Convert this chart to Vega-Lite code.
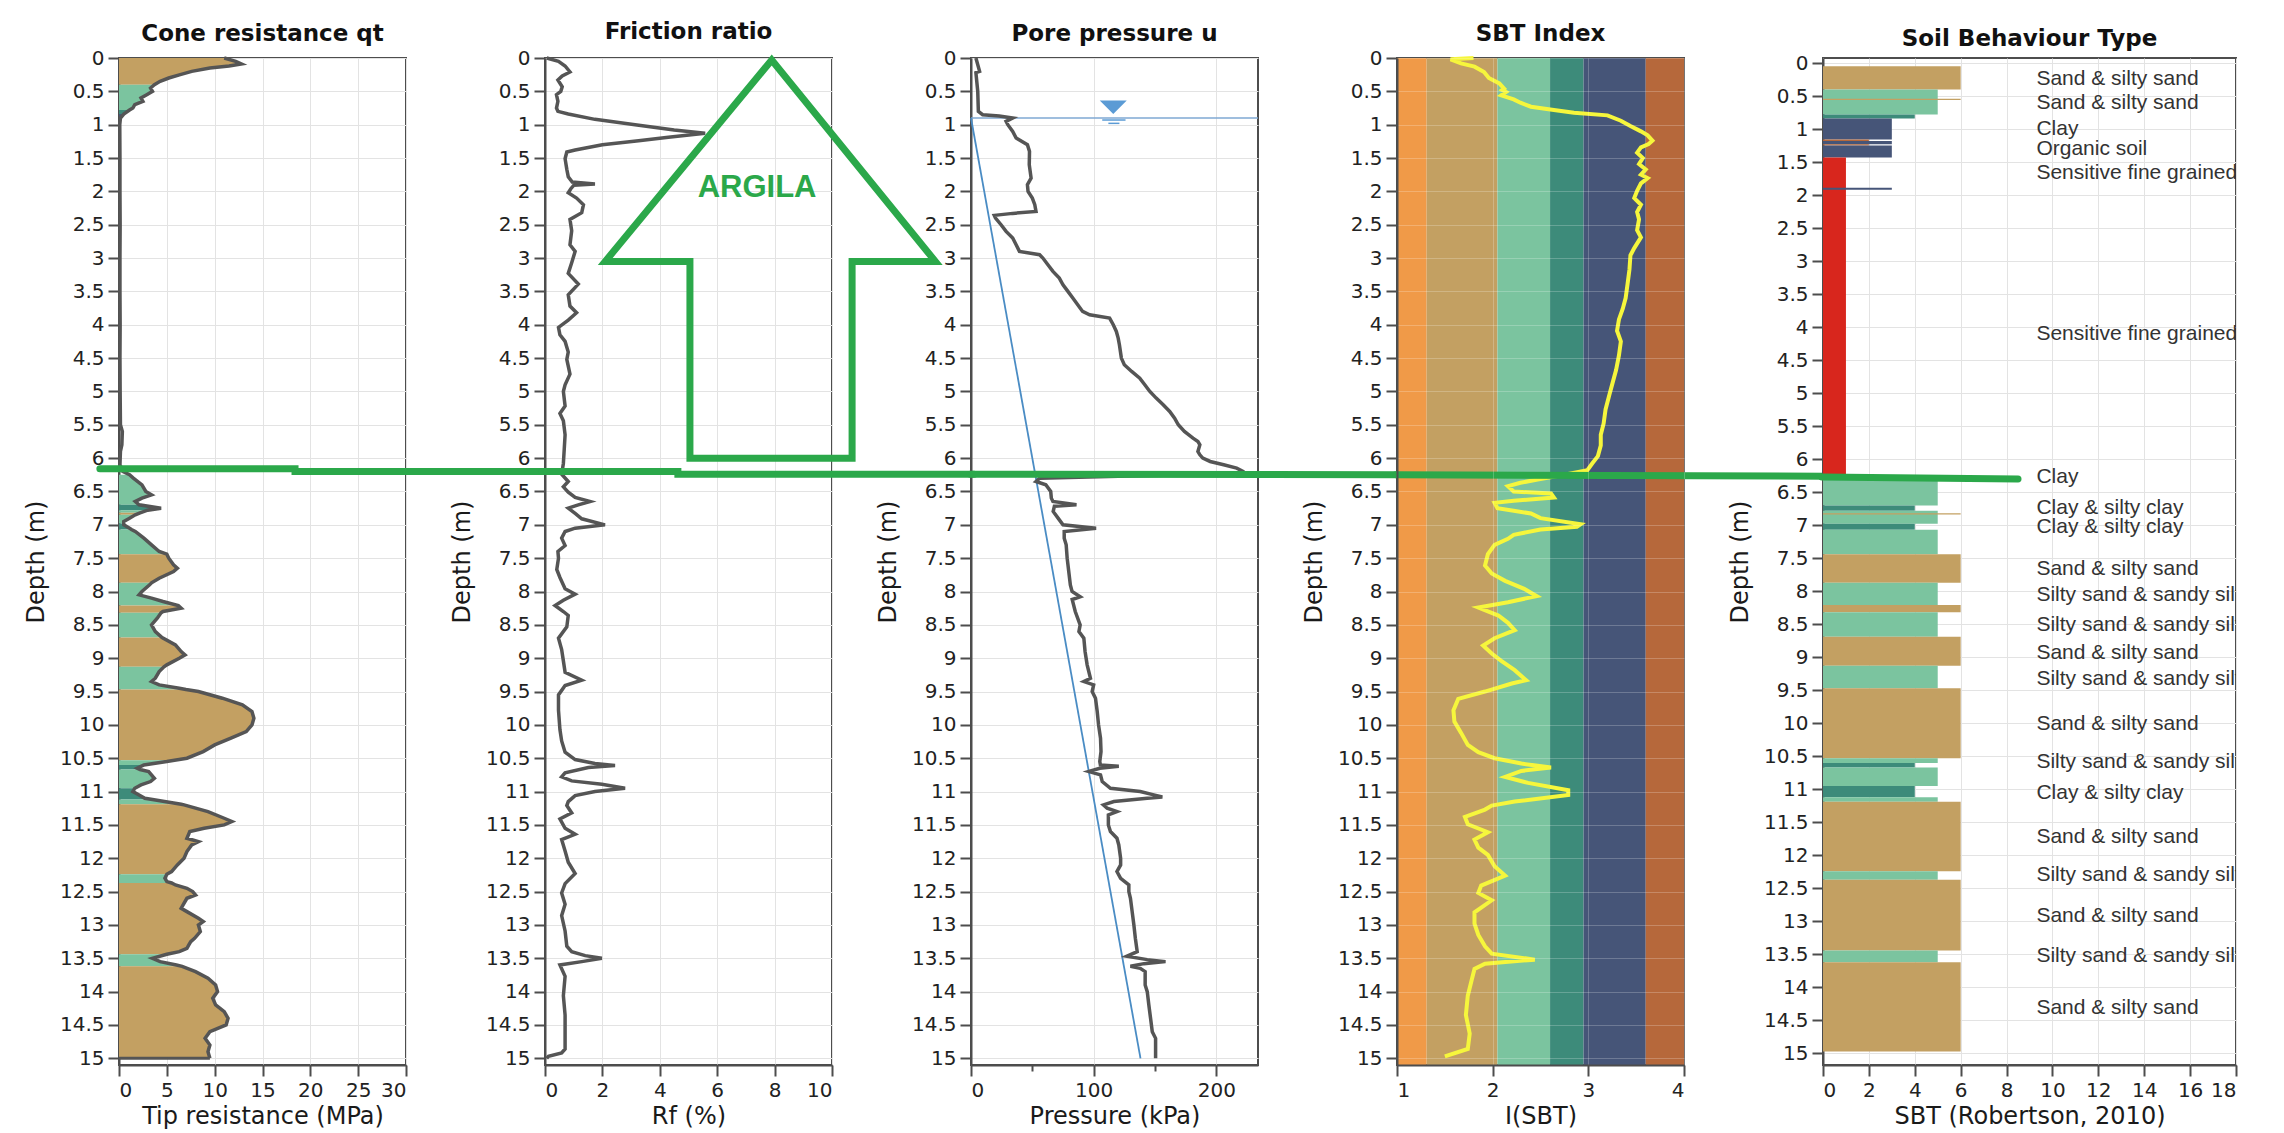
{
  "$schema": "https://vega.github.io/schema/vega-lite/v6.json",
  "background": "white",
  "padding": {"left": 23, "top": 20, "right": 5, "bottom": 0},
  "bounds": "flush",
  "spacing": 139,
  "config": {
    "view": {"stroke": "#4d4d4d", "strokeWidth": 2},
    "axis": {
      "labelFont": "DejaVu Sans", "labelFontSize": 20, "labelColor": "#222222", "labelOverlap": false,
      "titleFont": "DejaVu Sans", "titleFontSize": 24, "titleFontWeight": "normal", "titleColor": "#1a1a1a",
      "domainColor": "#4d4d4d", "domainWidth": 2, "tickColor": "#4d4d4d", "tickWidth": 2, "tickSize": 11,
      "gridColor": "#e3e3e3", "gridWidth": 1
    },
    "axisY": {"labelPadding": 4, "titlePadding": 11, "minExtent": 60, "maxExtent": 60},
    "axisX": {"labelPadding": 4, "titlePadding": 4},
    "title": {"font": "DejaVu Sans", "fontSize": 23, "fontWeight": "bold", "color": "#111111", "offset": 2, "frame": "group"}
  },
  "datasets": {
    "qt": [
      {"d":0,"q":11,"s":1,"z":"sand"},{"d":0.05,"q":12.2,"s":1,"z":"sand"},{"d":0.09,"q":12.8,"s":1,"z":"sand"},{"d":0.12,"q":11.5,"s":1,"z":"sand"},{"d":0.15,"q":9.5,"s":1,"z":"sand"},{"d":0.2,"q":7.6,"s":1,"z":"sand"},{"d":0.25,"q":6.4,"s":1,"z":"sand"},{"d":0.3,"q":5.2,"s":1,"z":"sand"},{"d":0.35,"q":4.3,"s":1,"z":"sand"},{"d":0.4,"q":3.7,"s":1,"z":"sand"},
      {"d":0.4,"q":3.7,"s":2,"z":"silt"},{"d":0.45,"q":3.3,"s":2,"z":"silt"},{"d":0.5,"q":3.5,"s":2,"z":"silt"},{"d":0.55,"q":2.9,"s":2,"z":"silt"},{"d":0.6,"q":2.3,"s":2,"z":"silt"},{"d":0.65,"q":2.5,"s":2,"z":"silt"},{"d":0.7,"q":1.65,"s":2,"z":"silt"},{"d":0.75,"q":1.45,"s":2,"z":"silt"},{"d":0.78,"q":1.1,"s":2,"z":"silt"},
      {"d":0.78,"q":1.1,"s":3,"z":"siltyclay"},{"d":0.84,"q":0.5,"s":3,"z":"siltyclay"},
      {"d":0.84,"q":0.5,"s":4,"z":"clay"},{"d":0.9,"q":0.15,"s":4,"z":"clay"},{"d":1.0,"q":0.08,"s":4,"z":"clay"},
      {"d":1.5,"q":0.1},{"d":2,"q":0.1},{"d":2.5,"q":0.12},{"d":3,"q":0.1},{"d":3.5,"q":0.1},{"d":4,"q":0.12},{"d":4.5,"q":0.1},{"d":5,"q":0.12},{"d":5.5,"q":0.15},{"d":5.6,"q":0.35},{"d":5.8,"q":0.3},{"d":5.9,"q":0.15},{"d":6.1,"q":0.1},{"d":6.2,"q":0.4},
      {"d":6.25,"q":1.1,"s":5,"z":"silt"},{"d":6.3,"q":1.5,"s":5,"z":"silt"},{"d":6.4,"q":2.4,"s":5,"z":"silt"},{"d":6.5,"q":2.8,"s":5,"z":"silt"},{"d":6.55,"q":3.4,"s":5,"z":"silt"},{"d":6.6,"q":2.4,"s":5,"z":"silt"},{"d":6.65,"q":1.7,"s":5,"z":"silt"},{"d":6.7,"q":2.1,"s":5,"z":"silt"},
      {"d":6.7,"q":2.1,"s":6,"z":"siltyclay"},{"d":6.75,"q":4.4,"s":6,"z":"siltyclay"},{"d":6.78,"q":3.0,"s":6,"z":"siltyclay"},
      {"d":6.78,"q":3.0,"s":7,"z":"silt"},{"d":6.82,"q":2.2,"s":7,"z":"silt"},
      {"d":6.82,"q":2.2,"s":8,"z":"sand"},{"d":6.85,"q":1.7,"s":8,"z":"sand"},
      {"d":6.85,"q":1.7,"s":9,"z":"silt"},{"d":6.9,"q":1.1,"s":9,"z":"silt"},{"d":6.95,"q":0.5,"s":9,"z":"silt"},{"d":6.98,"q":0.5,"s":9,"z":"silt"},
      {"d":6.98,"q":0.5,"s":10,"z":"siltyclay"},{"d":7.0,"q":0.5,"s":10,"z":"siltyclay"},{"d":7.05,"q":1.1,"s":10,"z":"siltyclay"},{"d":7.07,"q":1.3,"s":10,"z":"siltyclay"},
      {"d":7.07,"q":1.3,"s":11,"z":"silt"},{"d":7.1,"q":1.7,"s":11,"z":"silt"},{"d":7.2,"q":2.6,"s":11,"z":"silt"},{"d":7.3,"q":3.4,"s":11,"z":"silt"},{"d":7.4,"q":4.2,"s":11,"z":"silt"},{"d":7.44,"q":5.0,"s":11,"z":"silt"},
      {"d":7.44,"q":5.0,"s":12,"z":"sand"},{"d":7.5,"q":5.2,"s":12,"z":"sand"},{"d":7.6,"q":5.7,"s":12,"z":"sand"},{"d":7.65,"q":6.1,"s":12,"z":"sand"},{"d":7.7,"q":5.7,"s":12,"z":"sand"},{"d":7.8,"q":4.2,"s":12,"z":"sand"},{"d":7.87,"q":3.4,"s":12,"z":"sand"},
      {"d":7.87,"q":3.4,"s":13,"z":"silt"},{"d":7.9,"q":3.2,"s":13,"z":"silt"},{"d":8.0,"q":2.4,"s":13,"z":"silt"},{"d":8.05,"q":2.1,"s":13,"z":"silt"},{"d":8.1,"q":3.4,"s":13,"z":"silt"},{"d":8.15,"q":4.6,"s":13,"z":"silt"},{"d":8.21,"q":6.2,"s":13,"z":"silt"},
      {"d":8.21,"q":6.2,"s":14,"z":"sand"},{"d":8.25,"q":6.5,"s":14,"z":"sand"},{"d":8.3,"q":4.6,"s":14,"z":"sand"},{"d":8.32,"q":4.4,"s":14,"z":"sand"},
      {"d":8.32,"q":4.4,"s":15,"z":"silt"},{"d":8.4,"q":4.0,"s":15,"z":"silt"},{"d":8.5,"q":3.4,"s":15,"z":"silt"},{"d":8.6,"q":3.8,"s":15,"z":"silt"},{"d":8.69,"q":4.5,"s":15,"z":"silt"},
      {"d":8.69,"q":4.5,"s":16,"z":"sand"},{"d":8.8,"q":5.9,"s":16,"z":"sand"},{"d":8.9,"q":6.5,"s":16,"z":"sand"},{"d":8.95,"q":6.9,"s":16,"z":"sand"},{"d":9.0,"q":6.3,"s":16,"z":"sand"},{"d":9.1,"q":5.0,"s":16,"z":"sand"},{"d":9.13,"q":4.7,"s":16,"z":"sand"},
      {"d":9.13,"q":4.7,"s":17,"z":"silt"},{"d":9.2,"q":4.2,"s":17,"z":"silt"},{"d":9.3,"q":3.8,"s":17,"z":"silt"},{"d":9.35,"q":3.4,"s":17,"z":"silt"},{"d":9.4,"q":4.2,"s":17,"z":"silt"},{"d":9.45,"q":6.3,"s":17,"z":"silt"},{"d":9.47,"q":7.0,"s":17,"z":"silt"},
      {"d":9.47,"q":7.0,"s":18,"z":"sand"},{"d":9.5,"q":8.3,"s":18,"z":"sand"},{"d":9.6,"q":10.8,"s":18,"z":"sand"},{"d":9.7,"q":12.9,"s":18,"z":"sand"},{"d":9.8,"q":13.9,"s":18,"z":"sand"},{"d":9.9,"q":14.1,"s":18,"z":"sand"},{"d":10.0,"q":13.9,"s":18,"z":"sand"},{"d":10.1,"q":13.3,"s":18,"z":"sand"},{"d":10.2,"q":11.7,"s":18,"z":"sand"},{"d":10.3,"q":10.0,"s":18,"z":"sand"},{"d":10.4,"q":8.8,"s":18,"z":"sand"},{"d":10.5,"q":7.1,"s":18,"z":"sand"},{"d":10.53,"q":5.8,"s":18,"z":"sand"},
      {"d":10.53,"q":5.8,"s":19,"z":"silt"},{"d":10.55,"q":5.0,"s":19,"z":"silt"},{"d":10.6,"q":2.6,"s":19,"z":"silt"},
      {"d":10.6,"q":2.6,"s":20,"z":"siltyclay"},{"d":10.65,"q":1.9,"s":20,"z":"siltyclay"},{"d":10.67,"q":2.2,"s":20,"z":"siltyclay"},
      {"d":10.67,"q":2.2,"s":21,"z":"silt"},{"d":10.7,"q":3.1,"s":21,"z":"silt"},{"d":10.8,"q":3.7,"s":21,"z":"silt"},{"d":10.85,"q":3.3,"s":21,"z":"silt"},{"d":10.9,"q":2.3,"s":21,"z":"silt"},{"d":10.95,"q":1.65,"s":21,"z":"silt"},
      {"d":10.95,"q":1.65,"s":22,"z":"siltyclay"},{"d":11.0,"q":1.45,"s":22,"z":"siltyclay"},{"d":11.05,"q":2.1,"s":22,"z":"siltyclay"},{"d":11.1,"q":2.7,"s":22,"z":"siltyclay"},{"d":11.12,"q":3.5,"s":22,"z":"siltyclay"},
      {"d":11.12,"q":3.5,"s":23,"z":"silt"},{"d":11.15,"q":4.75,"s":23,"z":"silt"},{"d":11.19,"q":6.5,"s":23,"z":"silt"},
      {"d":11.19,"q":6.5,"s":24,"z":"sand"},{"d":11.2,"q":6.8,"s":24,"z":"sand"},{"d":11.3,"q":9.3,"s":24,"z":"sand"},{"d":11.4,"q":11.0,"s":24,"z":"sand"},{"d":11.45,"q":11.8,"s":24,"z":"sand"},{"d":11.5,"q":11.0,"s":24,"z":"sand"},{"d":11.55,"q":8.9,"s":24,"z":"sand"},{"d":11.6,"q":7.4,"s":24,"z":"sand"},{"d":11.7,"q":7.1,"s":24,"z":"sand"},{"d":11.75,"q":8.3,"s":24,"z":"sand"},{"d":11.8,"q":7.6,"s":24,"z":"sand"},{"d":11.9,"q":7.1,"s":24,"z":"sand"},{"d":12.0,"q":6.8,"s":24,"z":"sand"},{"d":12.1,"q":6.1,"s":24,"z":"sand"},{"d":12.2,"q":5.5,"s":24,"z":"sand"},{"d":12.24,"q":5.0,"s":24,"z":"sand"},
      {"d":12.24,"q":5.0,"s":25,"z":"silt"},{"d":12.3,"q":4.8,"s":25,"z":"silt"},{"d":12.35,"q":5.0,"s":25,"z":"silt"},{"d":12.37,"q":5.5,"s":25,"z":"silt"},
      {"d":12.37,"q":5.5,"s":26,"z":"sand"},{"d":12.4,"q":5.9,"s":26,"z":"sand"},{"d":12.45,"q":7.1,"s":26,"z":"sand"},{"d":12.5,"q":7.7,"s":26,"z":"sand"},{"d":12.55,"q":8.0,"s":26,"z":"sand"},{"d":12.6,"q":7.1,"s":26,"z":"sand"},{"d":12.7,"q":6.7,"s":26,"z":"sand"},{"d":12.75,"q":6.5,"s":26,"z":"sand"},{"d":12.8,"q":7.1,"s":26,"z":"sand"},{"d":12.9,"q":8.3,"s":26,"z":"sand"},{"d":12.95,"q":8.8,"s":26,"z":"sand"},{"d":13.0,"q":8.3,"s":26,"z":"sand"},{"d":13.1,"q":8.5,"s":26,"z":"sand"},{"d":13.2,"q":7.9,"s":26,"z":"sand"},{"d":13.25,"q":7.5,"s":26,"z":"sand"},{"d":13.3,"q":7.3,"s":26,"z":"sand"},{"d":13.35,"q":7.1,"s":26,"z":"sand"},{"d":13.4,"q":6.3,"s":26,"z":"sand"},{"d":13.44,"q":5.0,"s":26,"z":"sand"},
      {"d":13.44,"q":5.0,"s":27,"z":"silt"},{"d":13.5,"q":3.5,"s":27,"z":"silt"},{"d":13.55,"q":4.3,"s":27,"z":"silt"},{"d":13.6,"q":6.0,"s":27,"z":"silt"},{"d":13.62,"q":6.6,"s":27,"z":"silt"},
      {"d":13.62,"q":6.6,"s":28,"z":"sand"},{"d":13.7,"q":8.0,"s":28,"z":"sand"},{"d":13.8,"q":9.3,"s":28,"z":"sand"},{"d":13.9,"q":10.1,"s":28,"z":"sand"},{"d":14.0,"q":10.3,"s":28,"z":"sand"},{"d":14.1,"q":9.8,"s":28,"z":"sand"},{"d":14.2,"q":10.1,"s":28,"z":"sand"},{"d":14.3,"q":11.0,"s":28,"z":"sand"},{"d":14.4,"q":11.4,"s":28,"z":"sand"},{"d":14.5,"q":11.2,"s":28,"z":"sand"},{"d":14.6,"q":9.5,"s":28,"z":"sand"},{"d":14.7,"q":9.0,"s":28,"z":"sand"},{"d":14.8,"q":9.5,"s":28,"z":"sand"},{"d":14.9,"q":9.3,"s":28,"z":"sand"},{"d":15.0,"q":9.5,"s":28,"z":"sand"}
    ],
    "rf": [
      {"d":0,"r":0.06},{"d":0.05,"r":0.47},{"d":0.12,"r":0.7},{"d":0.21,"r":0.87},{"d":0.27,"r":0.6},{"d":0.33,"r":0.45},{"d":0.43,"r":0.6},{"d":0.5,"r":0.55},{"d":0.55,"r":0.4},{"d":0.65,"r":0.45},{"d":0.75,"r":0.4},{"d":0.8,"r":0.45},{"d":0.84,"r":0.81},{"d":0.92,"r":1.74},{"d":1.0,"r":3.14},{"d":1.08,"r":4.5},{"d":1.13,"r":5.58},{"d":1.19,"r":4.3},{"d":1.24,"r":3.26},{"d":1.3,"r":2.0},{"d":1.38,"r":1.05},{"d":1.41,"r":0.76},{"d":1.51,"r":0.7},{"d":1.67,"r":0.76},{"d":1.78,"r":0.81},{"d":1.86,"r":0.95},{"d":1.89,"r":1.74},{"d":1.91,"r":1.0},{"d":1.96,"r":0.9},{"d":2.02,"r":0.81},{"d":2.1,"r":1.1},{"d":2.2,"r":1.34},{"d":2.32,"r":1.28},{"d":2.42,"r":0.87},{"d":2.59,"r":0.93},{"d":2.8,"r":0.87},{"d":2.9,"r":1.05},{"d":3.07,"r":0.93},{"d":3.23,"r":0.81},{"d":3.39,"r":1.16},{"d":3.55,"r":0.81},{"d":3.72,"r":0.87},{"d":3.82,"r":1.1},{"d":3.93,"r":0.81},{"d":4.04,"r":0.47},{"d":4.15,"r":0.52},{"d":4.25,"r":0.7},{"d":4.41,"r":0.81},{"d":4.52,"r":0.76},{"d":4.74,"r":0.87},{"d":4.9,"r":0.7},{"d":5.0,"r":0.64},{"d":5.22,"r":0.7},{"d":5.33,"r":0.52},{"d":5.44,"r":0.64},{"d":5.65,"r":0.7},{"d":5.87,"r":0.67},{"d":6.08,"r":0.64},{"d":6.24,"r":0.58},{"d":6.35,"r":0.81},{"d":6.43,"r":0.64},{"d":6.51,"r":0.81},{"d":6.59,"r":1.05},{"d":6.65,"r":1.57},{"d":6.7,"r":1.16},{"d":6.75,"r":0.81},{"d":6.83,"r":1.05},{"d":6.91,"r":1.28},{"d":7.0,"r":2.09},{"d":7.05,"r":1.05},{"d":7.1,"r":0.7},{"d":7.2,"r":0.58},{"d":7.31,"r":0.7},{"d":7.4,"r":0.45},{"d":7.5,"r":0.47},{"d":7.67,"r":0.41},{"d":7.79,"r":0.52},{"d":7.96,"r":0.7},{"d":8.04,"r":1.05},{"d":8.13,"r":0.64},{"d":8.21,"r":0.35},{"d":8.3,"r":0.64},{"d":8.36,"r":0.81},{"d":8.53,"r":0.76},{"d":8.7,"r":0.47},{"d":8.87,"r":0.58},{"d":9.04,"r":0.64},{"d":9.21,"r":0.7},{"d":9.33,"r":1.28},{"d":9.41,"r":0.7},{"d":9.55,"r":0.47},{"d":9.78,"r":0.47},{"d":10.07,"r":0.52},{"d":10.24,"r":0.58},{"d":10.41,"r":0.7},{"d":10.52,"r":1.05},{"d":10.58,"r":1.74},{"d":10.61,"r":2.44},{"d":10.64,"r":1.51},{"d":10.72,"r":0.7},{"d":10.78,"r":0.58},{"d":10.84,"r":0.93},{"d":10.89,"r":1.98},{"d":10.95,"r":2.79},{"d":11.0,"r":1.74},{"d":11.06,"r":1.05},{"d":11.15,"r":0.81},{"d":11.21,"r":0.76},{"d":11.32,"r":0.93},{"d":11.41,"r":0.52},{"d":11.55,"r":0.7},{"d":11.64,"r":1.05},{"d":11.72,"r":0.58},{"d":11.89,"r":0.7},{"d":12.06,"r":0.81},{"d":12.23,"r":1.05},{"d":12.38,"r":0.7},{"d":12.52,"r":0.58},{"d":12.69,"r":0.7},{"d":12.86,"r":0.58},{"d":13.09,"r":0.7},{"d":13.32,"r":0.76},{"d":13.4,"r":0.93},{"d":13.46,"r":1.4},{"d":13.5,"r":1.98},{"d":13.55,"r":1.28},{"d":13.6,"r":0.52},{"d":13.77,"r":0.7},{"d":14.06,"r":0.64},{"d":14.35,"r":0.7},{"d":14.63,"r":0.7},{"d":14.86,"r":0.7},{"d":14.92,"r":0.58},{"d":14.97,"r":0.12},{"d":15.0,"r":0.06}
    ],
    "pore": [
      {"d":0,"u":4},{"d":0.2,"u":7},{"d":0.22,"u":4},{"d":0.5,"u":5.5},{"d":0.8,"u":6},{"d":0.85,"u":9.5},{"d":0.87,"u":23},{"d":0.9,"u":34},{"d":0.95,"u":28.6},{"d":1.0,"u":30},{"d":1.1,"u":34},{"d":1.2,"u":36.8},{"d":1.3,"u":46},{"d":1.4,"u":47.7},{"d":1.6,"u":47.5},{"d":1.8,"u":49},{"d":1.9,"u":46},{"d":2.0,"u":46.5},{"d":2.1,"u":50},{"d":2.2,"u":52},{"d":2.3,"u":53},{"d":2.33,"u":34},{"d":2.36,"u":19},{"d":2.4,"u":20},{"d":2.5,"u":24.5},{"d":2.6,"u":28.6},{"d":2.7,"u":34},{"d":2.8,"u":36.8},{"d":2.9,"u":39.5},{"d":2.95,"u":55.9},{"d":3.0,"u":58.6},{"d":3.1,"u":62.7},{"d":3.2,"u":66.8},{"d":3.3,"u":72},{"d":3.4,"u":75},{"d":3.5,"u":79},{"d":3.6,"u":83},{"d":3.7,"u":87},{"d":3.8,"u":91},{"d":3.85,"u":96.7},{"d":3.9,"u":113},{"d":4.0,"u":116},{"d":4.1,"u":118.5},{"d":4.2,"u":120},{"d":4.3,"u":121},{"d":4.5,"u":122.6},{"d":4.6,"u":125},{"d":4.7,"u":131},{"d":4.8,"u":137.6},{"d":4.9,"u":141.7},{"d":5.0,"u":145.8},{"d":5.1,"u":151},{"d":5.2,"u":156.7},{"d":5.3,"u":162},{"d":5.4,"u":166},{"d":5.5,"u":169},{"d":5.6,"u":174},{"d":5.7,"u":181},{"d":5.75,"u":185},{"d":5.8,"u":186.6},{"d":5.9,"u":185},{"d":5.95,"u":186.6},{"d":6.0,"u":189},{"d":6.05,"u":195},{"d":6.1,"u":206},{"d":6.15,"u":216.6},{"d":6.2,"u":222},{"d":6.23,"u":223},{"d":6.27,"u":120},{"d":6.3,"u":56},{"d":6.35,"u":53},{"d":6.4,"u":61},{"d":6.5,"u":65},{"d":6.6,"u":65.5},{"d":6.65,"u":66.8},{"d":6.7,"u":86},{"d":6.72,"u":68},{"d":6.8,"u":67},{"d":6.9,"u":71},{"d":7.0,"u":75},{"d":7.05,"u":102},{"d":7.1,"u":76},{"d":7.2,"u":76},{"d":7.3,"u":77.6},{"d":7.5,"u":78.4},{"d":7.7,"u":79.7},{"d":7.9,"u":81},{"d":8.0,"u":82.4},{"d":8.08,"u":89},{"d":8.12,"u":82.5},{"d":8.3,"u":85},{"d":8.5,"u":89},{"d":8.6,"u":88},{"d":8.7,"u":92},{"d":8.9,"u":93},{"d":9.1,"u":94.7},{"d":9.3,"u":97.4},{"d":9.35,"u":92},{"d":9.4,"u":100},{"d":9.5,"u":98.8},{"d":9.6,"u":101.5},{"d":9.8,"u":102.9},{"d":10.0,"u":104},{"d":10.2,"u":105.6},{"d":10.4,"u":106},{"d":10.55,"u":105},{"d":10.6,"u":105.5},{"d":10.62,"u":120.5},{"d":10.65,"u":105},{"d":10.7,"u":96},{"d":10.75,"u":105.6},{"d":10.85,"u":107},{"d":10.95,"u":113.7},{"d":11.0,"u":138},{"d":11.05,"u":149},{"d":11.08,"u":156},{"d":11.1,"u":143.7},{"d":11.15,"u":116.5},{"d":11.2,"u":108},{"d":11.25,"u":111},{"d":11.3,"u":119},{"d":11.35,"u":112},{"d":11.5,"u":112},{"d":11.6,"u":113.7},{"d":11.7,"u":119},{"d":11.8,"u":120.5},{"d":12.0,"u":122},{"d":12.1,"u":122},{"d":12.2,"u":119},{"d":12.3,"u":122},{"d":12.4,"u":128.7},{"d":12.5,"u":128.7},{"d":12.6,"u":130},{"d":12.8,"u":131.4},{"d":13.0,"u":132.8},{"d":13.2,"u":134},{"d":13.4,"u":135.5},{"d":13.47,"u":127},{"d":13.52,"u":143.7},{"d":13.55,"u":158.6},{"d":13.58,"u":141},{"d":13.62,"u":130},{"d":13.65,"u":138},{"d":13.7,"u":142},{"d":13.9,"u":142},{"d":14.0,"u":143.7},{"d":14.2,"u":145},{"d":14.4,"u":146.4},{"d":14.6,"u":147.8},{"d":14.7,"u":150.5},{"d":15.0,"u":150.5}
    ],
    "ic": [
      {"d":0,"c":1.8},{"d":0.02,"c":1.56},{"d":0.08,"c":1.67},{"d":0.13,"c":1.81},{"d":0.21,"c":1.91},{"d":0.3,"c":1.96},{"d":0.38,"c":2.07},{"d":0.46,"c":2.12},{"d":0.48,"c":2.1},{"d":0.51,"c":2.14},{"d":0.56,"c":2.09},{"d":0.62,"c":2.22},{"d":0.67,"c":2.29},{"d":0.73,"c":2.4},{"d":0.78,"c":2.64},{"d":0.82,"c":2.85},{"d":0.86,"c":3.2},{"d":0.94,"c":3.34},{"d":1.02,"c":3.44},{"d":1.1,"c":3.55},{"d":1.16,"c":3.62},{"d":1.24,"c":3.67},{"d":1.29,"c":3.63},{"d":1.34,"c":3.55},{"d":1.42,"c":3.51},{"d":1.5,"c":3.57},{"d":1.59,"c":3.53},{"d":1.67,"c":3.6},{"d":1.75,"c":3.55},{"d":1.8,"c":3.62},{"d":1.88,"c":3.55},{"d":1.99,"c":3.51},{"d":2.1,"c":3.48},{"d":2.2,"c":3.55},{"d":2.31,"c":3.51},{"d":2.42,"c":3.53},{"d":2.58,"c":3.51},{"d":2.69,"c":3.55},{"d":2.85,"c":3.48},{"d":2.96,"c":3.44},{"d":3.17,"c":3.43},{"d":3.39,"c":3.41},{"d":3.6,"c":3.39},{"d":3.76,"c":3.36},{"d":3.92,"c":3.32},{"d":4.09,"c":3.3},{"d":4.25,"c":3.34},{"d":4.46,"c":3.32},{"d":4.68,"c":3.29},{"d":4.89,"c":3.25},{"d":5.05,"c":3.22},{"d":5.27,"c":3.18},{"d":5.48,"c":3.16},{"d":5.65,"c":3.13},{"d":5.81,"c":3.13},{"d":5.97,"c":3.1},{"d":6.08,"c":3.04},{"d":6.18,"c":2.99},{"d":6.25,"c":2.75},{"d":6.32,"c":2.47},{"d":6.37,"c":2.29},{"d":6.42,"c":2.16},{"d":6.5,"c":2.22},{"d":6.53,"c":2.61},{"d":6.59,"c":2.64},{"d":6.64,"c":2.22},{"d":6.67,"c":2.02},{"d":6.75,"c":2.05},{"d":6.83,"c":2.4},{"d":6.9,"c":2.5},{"d":6.99,"c":2.92},{"d":7.03,"c":2.88},{"d":7.07,"c":2.5},{"d":7.15,"c":2.22},{"d":7.21,"c":2.16},{"d":7.3,"c":2.02},{"d":7.44,"c":1.95},{"d":7.61,"c":1.92},{"d":7.73,"c":1.99},{"d":7.84,"c":2.13},{"d":7.96,"c":2.33},{"d":8.07,"c":2.46},{"d":8.16,"c":2.16},{"d":8.24,"c":1.85},{"d":8.36,"c":2.06},{"d":8.47,"c":2.16},{"d":8.58,"c":2.23},{"d":8.7,"c":2.02},{"d":8.81,"c":1.9},{"d":8.93,"c":1.99},{"d":9.04,"c":2.09},{"d":9.18,"c":2.23},{"d":9.33,"c":2.35},{"d":9.38,"c":2.2},{"d":9.5,"c":1.92},{"d":9.61,"c":1.64},{"d":9.78,"c":1.59},{"d":9.95,"c":1.6},{"d":10.12,"c":1.67},{"d":10.3,"c":1.74},{"d":10.41,"c":1.85},{"d":10.5,"c":2.02},{"d":10.58,"c":2.3},{"d":10.64,"c":2.61},{"d":10.69,"c":2.3},{"d":10.78,"c":2.13},{"d":10.87,"c":2.37},{"d":10.98,"c":2.79},{"d":11.05,"c":2.79},{"d":11.15,"c":2.23},{"d":11.21,"c":1.99},{"d":11.27,"c":1.92},{"d":11.38,"c":1.71},{"d":11.49,"c":1.74},{"d":11.61,"c":1.95},{"d":11.72,"c":1.81},{"d":11.84,"c":1.85},{"d":11.95,"c":1.95},{"d":12.12,"c":2.02},{"d":12.26,"c":2.13},{"d":12.41,"c":1.88},{"d":12.52,"c":1.85},{"d":12.63,"c":1.99},{"d":12.81,"c":1.81},{"d":12.98,"c":1.81},{"d":13.15,"c":1.85},{"d":13.32,"c":1.92},{"d":13.43,"c":1.99},{"d":13.52,"c":2.44},{"d":13.58,"c":1.92},{"d":13.66,"c":1.81},{"d":13.83,"c":1.78},{"d":14.06,"c":1.74},{"d":14.35,"c":1.72},{"d":14.63,"c":1.76},{"d":14.86,"c":1.74},{"d":14.97,"c":1.5}
    ],
    "bands": [
      {"lo":1,"hi":1.31,"d":0,"d1":15.1,"z":"gravel"},{"lo":1.31,"hi":2.05,"d":0,"d1":15.1,"z":"sand"},{"lo":2.05,"hi":2.6,"d":0,"d1":15.1,"z":"silt"},{"lo":2.6,"hi":2.95,"d":0,"d1":15.1,"z":"siltyclay"},{"lo":2.95,"hi":3.6,"d":0,"d1":15.1,"z":"clay"},{"lo":3.6,"hi":4,"d":0,"d1":15.1,"z":"organic"}
    ],
    "sbt": [
      {"d":0.05,"d1":0.4,"v":6,"z":"sand"},{"d":0.4,"d1":0.78,"v":5,"z":"silt"},{"d":0.54,"d1":0.56,"v":6,"z":"sand"},{"d":0.78,"d1":0.84,"v":4,"z":"siltyclay"},
      {"d":0.84,"d1":1.16,"v":3,"z":"clay"},{"d":1.16,"d1":1.18,"v":2,"z":"organic"},{"d":1.18,"d1":1.23,"v":3,"z":"clay"},{"d":1.23,"d1":1.25,"v":2,"z":"organic"},{"d":1.25,"d1":1.43,"v":3,"z":"clay"},
      {"d":1.43,"d1":6.25,"v":1,"z":"sensitive"},{"d":1.89,"d1":1.92,"v":3,"z":"clay"},
      {"d":6.25,"d1":6.7,"v":5,"z":"silt"},{"d":6.7,"d1":6.78,"v":4,"z":"siltyclay"},{"d":6.78,"d1":6.98,"v":5,"z":"silt"},{"d":6.82,"d1":6.84,"v":6,"z":"sand"},{"d":6.98,"d1":7.07,"v":4,"z":"siltyclay"},{"d":7.07,"d1":7.44,"v":5,"z":"silt"},
      {"d":7.44,"d1":7.87,"v":6,"z":"sand"},{"d":7.87,"d1":8.21,"v":5,"z":"silt"},{"d":8.21,"d1":8.32,"v":6,"z":"sand"},{"d":8.32,"d1":8.69,"v":5,"z":"silt"},{"d":8.69,"d1":9.13,"v":6,"z":"sand"},{"d":9.13,"d1":9.47,"v":5,"z":"silt"},{"d":9.47,"d1":10.53,"v":6,"z":"sand"},
      {"d":10.53,"d1":10.6,"v":5,"z":"silt"},{"d":10.6,"d1":10.67,"v":4,"z":"siltyclay"},{"d":10.67,"d1":10.95,"v":5,"z":"silt"},{"d":10.95,"d1":11.12,"v":4,"z":"siltyclay"},{"d":11.12,"d1":11.19,"v":5,"z":"silt"},
      {"d":11.19,"d1":12.24,"v":6,"z":"sand"},{"d":12.24,"d1":12.37,"v":5,"z":"silt"},{"d":12.37,"d1":13.44,"v":6,"z":"sand"},{"d":13.44,"d1":13.62,"v":5,"z":"silt"},{"d":13.62,"d1":14.97,"v":6,"z":"sand"}
    ],
    "lbl": [
      {"d":0.24,"t":"Sand & silty sand"},{"d":0.6,"t":"Sand & silty sand"},{"d":1.0,"t":"Clay"},{"d":1.3,"t":"Organic soil"},{"d":1.67,"t":"Sensitive fine grained"},{"d":4.1,"t":"Sensitive fine grained"},{"d":6.27,"t":"Clay"},{"d":6.74,"t":"Clay & silty clay"},{"d":7.03,"t":"Clay & silty clay"},{"d":7.66,"t":"Sand & silty sand"},{"d":8.06,"t":"Silty sand & sandy silt"},{"d":8.51,"t":"Silty sand & sandy silt"},{"d":8.93,"t":"Sand & silty sand"},{"d":9.33,"t":"Silty sand & sandy silt"},{"d":10.01,"t":"Sand & silty sand"},{"d":10.59,"t":"Silty sand & sandy silt"},{"d":11.05,"t":"Clay & silty clay"},{"d":11.73,"t":"Sand & silty sand"},{"d":12.3,"t":"Silty sand & sandy silt"},{"d":12.92,"t":"Sand & silty sand"},{"d":13.52,"t":"Silty sand & sandy silt"},{"d":14.32,"t":"Sand & silty sand"}
    ],
    "mk": [
      {"p":1,"i":1,"x":-2.0,"d":6.16},{"p":1,"i":2,"x":18.4,"d":6.16},{"p":1,"i":3,"x":18.4,"d":6.2},{"p":1,"i":4,"x":44.8,"d":6.2},
      {"p":2,"i":1,"x":-0.1,"d":6.2},{"p":2,"i":2,"x":4.63,"d":6.2},{"p":2,"i":3,"x":4.63,"d":6.24},{"p":2,"i":4,"x":14.95,"d":6.24},
      {"p":3,"i":1,"x":-0.5,"d":6.24},{"p":3,"i":2,"x":349.5,"d":6.25},
      {"p":4,"i":1,"x":0.99,"d":6.25},{"p":4,"i":2,"x":5.48,"d":6.27},
      {"p":5,"i":1,"x":-0.05,"d":6.27},{"p":5,"i":2,"x":8.5,"d":6.3}
    ],
    "arrow": [
      {"i":1,"x":5.05,"d":6.0},{"i":2,"x":5.05,"d":3.05},{"i":3,"x":2.1,"d":3.05},{"i":4,"x":7.9,"d":0.03},{"i":5,"x":13.6,"d":3.05},{"i":6,"x":10.7,"d":3.05},{"i":7,"x":10.7,"d":6.0},{"i":8,"x":5.05,"d":6.0}
    ]
  },
  "hconcat": [
    {
      "width": 287, "height": 1007,
      "title": "Cone resistance qt",
      "encoding": {
        "y": {"field": "d", "type": "quantitative",
          "scale": {"domain": [0, 15.1], "reverse": true, "nice": false, "zero": false},
          "axis": {"title": "Depth (m)", "format": ".6~g", "labelOverlap": false, "values": [0,0.5,1,1.5,2,2.5,3,3.5,4,4.5,5,5.5,6,6.5,7,7.5,8,8.5,9,9.5,10,10.5,11,11.5,12,12.5,13,13.5,14,14.5,15]}}
      },
      "layer": [
        {
          "data": {"name": "qt"},
          "transform": [{"filter": "isValid(datum.s)"}],
          "mark": {"type": "area", "orient": "horizontal"},
          "encoding": {
            "x": {"field": "q", "type": "quantitative", "stack": null,
              "scale": {"domain": [0, 30], "nice": false},
              "axis": {"title": "Tip resistance (MPa)", "format": ".6~g", "labelOverlap": false,
                "values": [0,2.5,5,7.5,10,12.5,15,17.5,20,22.5,25,27.5,30],
                "labelExpr": "datum.value % 5 === 0 ? datum.label : ''",
                "tickSize": {"condition": {"test": "datum.value % 5 !== 0", "value": 6}, "value": 11},
                "gridOpacity": {"condition": {"test": "datum.value % 5 !== 0", "value": 0}, "value": 1}}},
            "color": {"field": "z", "type": "nominal", "legend": null,
              "scale": {"domain": ["gravel","sand","silt","siltyclay","clay","organic","sensitive"], "range": ["#f09a48","#c3a062","#7bc49f","#3d8b7a","#465578","#b6683b","#d8261d"]}},
            "detail": {"field": "s", "type": "nominal"}
          }
        },
        {
          "data": {"name": "qt"},
          "mark": {"type": "line", "color": "#555555", "strokeWidth": 3.5},
          "encoding": {"x": {"field": "q", "type": "quantitative"}, "order": {"field": "d", "type": "quantitative"}}
        },
        {
          "data": {"values": [{"d": 15, "q0": 0, "q": 9.5}]},
          "mark": {"type": "rule", "color": "#555555", "strokeWidth": 3},
          "encoding": {"x": {"field": "q0", "type": "quantitative"}, "x2": {"field": "q"}}
        },
        {
          "data": {"name": "mk"},
          "transform": [{"filter": "datum.p === 1"}],
          "mark": {"type": "line", "color": "#2ba84a", "strokeWidth": 7, "clip": false, "strokeCap": "round"},
          "encoding": {"x": {"field": "x", "type": "quantitative"}, "order": {"field": "i", "type": "quantitative"}}
        }
      ]
    },
    {
      "width": 287, "height": 1007,
      "title": "Friction ratio",
      "encoding": {
        "y": {"field": "d", "type": "quantitative",
          "scale": {"domain": [0, 15.1], "reverse": true, "nice": false, "zero": false},
          "axis": {"title": "Depth (m)", "format": ".6~g", "labelOverlap": false, "values": [0,0.5,1,1.5,2,2.5,3,3.5,4,4.5,5,5.5,6,6.5,7,7.5,8,8.5,9,9.5,10,10.5,11,11.5,12,12.5,13,13.5,14,14.5,15]}}
      },
      "layer": [
        {
          "data": {"name": "rf"},
          "mark": {"type": "line", "color": "#555555", "strokeWidth": 3.5},
          "encoding": {
            "x": {"field": "r", "type": "quantitative",
              "scale": {"domain": [0, 10], "nice": false},
              "axis": {"title": "Rf (%)", "format": ".6~g", "labelOverlap": false,
                "values": [0,1,2,3,4,5,6,7,8,9,10],
                "labelExpr": "datum.value % 2 === 0 ? datum.label : ''",
                "tickSize": {"condition": {"test": "datum.value % 2 !== 0", "value": 6}, "value": 11},
                "gridOpacity": {"condition": {"test": "datum.value % 2 !== 0", "value": 0}, "value": 1}}},
            "order": {"field": "d", "type": "quantitative"}
          }
        },
        {
          "data": {"name": "arrow"},
          "mark": {"type": "line", "color": "#2ba84a", "strokeWidth": 7, "clip": false, "strokeJoin": "miter", "strokeCap": "square"},
          "encoding": {"x": {"field": "x", "type": "quantitative"}, "order": {"field": "i", "type": "quantitative"}}
        },
        {
          "data": {"values": [{"d": 1.95, "x": 7.39, "t": "ARGILA"}]},
          "mark": {"type": "text", "color": "#2ba84a", "font": "Liberation Sans", "fontSize": 31, "fontWeight": "bold", "align": "center", "baseline": "middle", "clip": false},
          "encoding": {"x": {"field": "x", "type": "quantitative"}, "text": {"field": "t", "type": "nominal"}}
        },
        {
          "data": {"name": "mk"},
          "transform": [{"filter": "datum.p === 2"}],
          "mark": {"type": "line", "color": "#2ba84a", "strokeWidth": 7, "clip": false, "strokeCap": "round"},
          "encoding": {"x": {"field": "x", "type": "quantitative"}, "order": {"field": "i", "type": "quantitative"}}
        }
      ]
    },
    {
      "width": 287, "height": 1007,
      "title": "Pore pressure u",
      "encoding": {
        "y": {"field": "d", "type": "quantitative",
          "scale": {"domain": [0, 15.1], "reverse": true, "nice": false, "zero": false},
          "axis": {"title": "Depth (m)", "format": ".6~g", "labelOverlap": false, "values": [0,0.5,1,1.5,2,2.5,3,3.5,4,4.5,5,5.5,6,6.5,7,7.5,8,8.5,9,9.5,10,10.5,11,11.5,12,12.5,13,13.5,14,14.5,15]}}
      },
      "layer": [
        {
          "data": {"values": [{"d": 0.9, "u": 0, "u2": 234}]},
          "mark": {"type": "rule", "color": "#7fa9d3", "strokeWidth": 1.5},
          "encoding": {
            "x": {"field": "u", "type": "quantitative",
              "scale": {"domain": [0, 234], "nice": false},
              "axis": {"title": "Pressure (kPa)", "format": ".6~g", "labelOverlap": false,
                "values": [0,50,100,150,200],
                "labelExpr": "datum.value % 100 === 0 ? datum.label : ''",
                "tickSize": {"condition": {"test": "datum.value % 100 !== 0", "value": 6}, "value": 11},
                "gridOpacity": {"condition": {"test": "datum.value % 100 !== 0", "value": 0}, "value": 1}}},
            "x2": {"field": "u2"}
          }
        },
        {
          "data": {"values": [{"d": 0.9, "u": 0}, {"d": 15, "u": 138.2}]},
          "mark": {"type": "line", "color": "#4a8cc4", "strokeWidth": 1.8},
          "encoding": {"x": {"field": "u", "type": "quantitative"}, "order": {"field": "d", "type": "quantitative"}}
        },
        {
          "data": {"name": "pore"},
          "mark": {"type": "line", "color": "#555555", "strokeWidth": 3.5},
          "encoding": {"x": {"field": "u", "type": "quantitative"}, "order": {"field": "d", "type": "quantitative"}}
        },
        {
          "data": {"values": [{"d": 0.74, "u": 116}]},
          "mark": {"type": "point", "shape": "M-1,-0.5L1,-0.5L0,0.5Z", "filled": true, "color": "#5b9bd5", "opacity": 1, "size": 729},
          "encoding": {"x": {"field": "u", "type": "quantitative"}}
        },
        {
          "data": {"values": [{"d": 0.93, "u": 107, "u2": 126}, {"d": 0.98, "u": 112, "u2": 121}]},
          "mark": {"type": "rule", "color": "#5b9bd5", "strokeWidth": 1.5},
          "encoding": {"x": {"field": "u", "type": "quantitative"}, "x2": {"field": "u2"}}
        },
        {
          "data": {"name": "mk"},
          "transform": [{"filter": "datum.p === 3"}],
          "mark": {"type": "line", "color": "#2ba84a", "strokeWidth": 7, "clip": false, "strokeCap": "round"},
          "encoding": {"x": {"field": "x", "type": "quantitative"}, "order": {"field": "i", "type": "quantitative"}}
        }
      ]
    },
    {
      "width": 287, "height": 1007,
      "title": "SBT Index",
      "encoding": {
        "y": {"field": "d", "type": "quantitative",
          "scale": {"domain": [0, 15.1], "reverse": true, "nice": false, "zero": false},
          "axis": {"title": "Depth (m)", "format": ".6~g", "labelOverlap": false, "zindex": 1, "gridColor": "#ffffff", "gridOpacity": 0.22, "values": [0,0.5,1,1.5,2,2.5,3,3.5,4,4.5,5,5.5,6,6.5,7,7.5,8,8.5,9,9.5,10,10.5,11,11.5,12,12.5,13,13.5,14,14.5,15]}}
      },
      "layer": [
        {
          "data": {"name": "bands"},
          "mark": {"type": "rect"},
          "encoding": {
            "x": {"field": "lo", "type": "quantitative",
              "scale": {"domain": [1, 4], "nice": false, "zero": false},
              "axis": {"title": "I(SBT)", "format": ".6~g", "labelOverlap": false, "zindex": 1, "gridColor": "#ffffff", "gridOpacity": 0.22,
                "values": [1,2,3,4]}},
            "x2": {"field": "hi"},
            "y2": {"field": "d1"},
            "color": {"field": "z", "type": "nominal", "legend": null,
              "scale": {"domain": ["gravel","sand","silt","siltyclay","clay","organic","sensitive"], "range": ["#f09a48","#c3a062","#7bc49f","#3d8b7a","#465578","#b6683b","#d8261d"]}}
          }
        },
        {
          "data": {"name": "ic"},
          "mark": {"type": "line", "color": "#f6f63c", "strokeWidth": 4},
          "encoding": {"x": {"field": "c", "type": "quantitative"}, "order": {"field": "d", "type": "quantitative"}}
        },
        {
          "data": {"name": "mk"},
          "transform": [{"filter": "datum.p === 4"}],
          "mark": {"type": "line", "color": "#2ba84a", "strokeWidth": 7, "clip": false, "strokeCap": "round"},
          "encoding": {"x": {"field": "x", "type": "quantitative"}, "order": {"field": "i", "type": "quantitative"}}
        }
      ]
    },
    {
      "width": 413, "height": 1007,
      "title": "Soil Behaviour Type",
      "encoding": {
        "y": {"field": "d", "type": "quantitative",
          "scale": {"domain": [0, 15.1], "reverse": true, "nice": false, "zero": false},
          "axis": {"title": "Depth (m)", "format": ".6~g", "labelOverlap": false, "values": [0,0.5,1,1.5,2,2.5,3,3.5,4,4.5,5,5.5,6,6.5,7,7.5,8,8.5,9,9.5,10,10.5,11,11.5,12,12.5,13,13.5,14,14.5,15]}}
      },
      "layer": [
        {
          "data": {"name": "sbt"},
          "mark": {"type": "bar", "orient": "horizontal"},
          "encoding": {
            "x": {"field": "v", "type": "quantitative",
              "scale": {"domain": [0, 18], "nice": false},
              "axis": {"title": "SBT (Robertson, 2010)", "format": ".6~g", "labelOverlap": false,
                "values": [0,1,2,3,4,5,6,7,8,9,10,11,12,13,14,15,16,17,18],
                "labelExpr": "datum.value % 2 === 0 ? datum.label : ''",
                "tickSize": {"condition": {"test": "datum.value % 2 !== 0", "value": 6}, "value": 11}}},
            "y2": {"field": "d1"},
            "color": {"field": "z", "type": "nominal", "legend": null,
              "scale": {"domain": ["gravel","sand","silt","siltyclay","clay","organic","sensitive"], "range": ["#f09a48","#c3a062","#7bc49f","#3d8b7a","#465578","#b6683b","#d8261d"]}}
          }
        },
        {
          "data": {"name": "lbl"},
          "mark": {"type": "text", "align": "left", "baseline": "middle", "font": "Liberation Sans", "fontSize": 21, "color": "#333333", "clip": true},
          "encoding": {"x": {"datum": 9.3, "type": "quantitative"}, "text": {"field": "t", "type": "nominal"}}
        },
        {
          "data": {"name": "mk"},
          "transform": [{"filter": "datum.p === 5"}],
          "mark": {"type": "line", "color": "#2ba84a", "strokeWidth": 7, "clip": false, "strokeCap": "round"},
          "encoding": {"x": {"field": "x", "type": "quantitative"}, "order": {"field": "i", "type": "quantitative"}}
        }
      ]
    }
  ]
}
